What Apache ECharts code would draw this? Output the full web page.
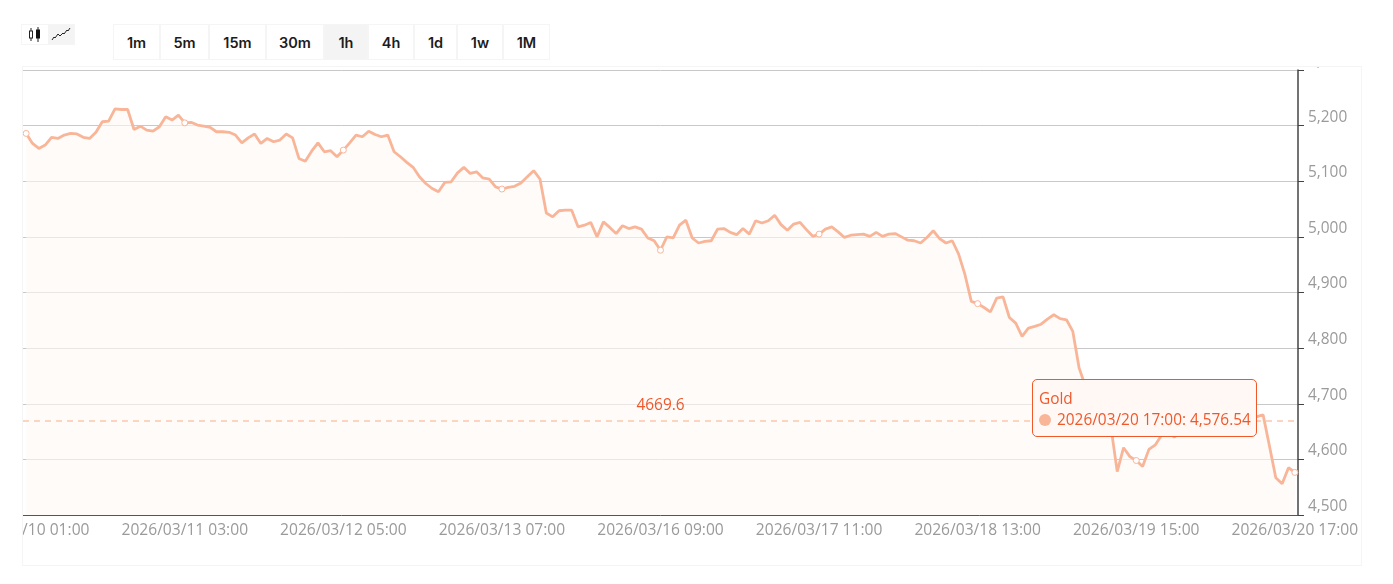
<!DOCTYPE html>
<html><head><meta charset="utf-8">
<style>
html,body{margin:0;padding:0;background:#fff;width:1393px;height:584px;overflow:hidden;font-family:"Open Sans",sans-serif}
#chart{position:absolute;left:22px;top:66px;width:1338px;height:498px;border:1px solid #f5f5f5;box-sizing:content-box}
.icons{position:absolute;left:21px;top:24px;width:54px;height:21px;display:flex;box-sizing:border-box;border:1px solid #f5f5f5}
.icons div{display:flex;align-items:center;justify-content:center;flex:1}
.icons .on{background:#f4f4f4}
.btn{position:absolute;top:24px;height:36px;box-sizing:border-box;border:1px solid #f5f5f5;display:flex;align-items:center;justify-content:center;font:600 14.5px Inter,sans-serif;color:#1c1c1c}
.btn.on{background:#f4f4f4}
</style></head><body>
<div class="icons">
<div><svg width="20" height="17" viewBox="0 0 20 17"><path d="M6 2v13M13 1v15" stroke="#222"/><rect x="4.5" y="5" width="3" height="7" fill="#fff" stroke="#222"/><rect x="11" y="3.5" width="4" height="9" fill="#111"/></svg></div>
<div class="on"><svg width="20" height="17" viewBox="0 0 20 17"><path d="M1 14l2-3 1 1 3-4 2 2 3-3 1 1 3-4 1 1 2-3" fill="none" stroke="#222" stroke-width="1"/></svg></div>
</div>
<div id="btns"></div>
<div id="chart"></div>
<script src="https://cdn.jsdelivr.net/npm/echarts@6/dist/echarts.min.js"></script>
<script>
const seriesName = 'Gold';
const intervalLabels = ['1m','5m','15m','30m','1h','4h','1d','1w','1M'];
const activeInterval = '1h';
const intervalEdges = [113,160,209,266,324,368,414,457,503,550];
const referenceLevel = 4669.6;
const yTicks = {min:4500,max:5300,interval:100};
const goldValues = [
5186,5168,5159,5165,5179,5177,5183,5186,5185,5179,5177,5188,5207,5208,5230,5229,5229,5193,5199,5192,5190,5198,5216,5210,5219,
5205,5206,5201,5199,5197,5189,5189,5188,5183,5169,5178,5185,5168,5177,5171,5174,5185,5178,5141,5136,5154,5169,5153,5155,5144,
5156,5169,5183,5180,5190,5184,5180,5183,5153,5144,5134,5125,5108,5096,5087,5081,5098,5099,5115,5125,5114,5117,5106,5104,5090,
5086,5089,5091,5097,5108,5119,5104,5043,5036,5047,5048,5048,5018,5021,5026,5000,5027,5017,5006,5020,5015,5018,5014,4998,4993,
4976,5000,4998,5021,5030,4998,4989,4992,4993,5014,5015,5008,5004,5015,5005,5029,5025,5029,5039,5022,5012,5023,5026,5013,5001,
5005,5014,5018,5009,4999,5003,5004,5005,5001,5008,5001,5005,5006,5000,4994,4993,4989,4999,5011,4997,4989,4993,4969,4932,4884,
4880,4873,4865,4890,4892,4855,4845,4821,4836,4839,4843,4852,4860,4853,4851,4830,4764,4731,4725,4707,4683,4659,4578,4621,4605,
4598,4587,4618,4626,4644,4650,4640,4648,4656,4671,4680,4671,4664,4674,4685,4678,4671,4667,4671,4677,4680,4624,4567,4556,4585,
4576.54];
// trading-hour calendar: closed daily at 22:00, and from Friday 22:00 through Sunday 22:00
function tradingHours(count){
  const out=[]; const p=n=>String(n).padStart(2,'0');
  let t=Date.UTC(2026,2,10,1);
  while(out.length<count){
    const d=new Date(t),h=d.getUTCHours(),w=d.getUTCDay();
    const closed=h===22||(w===5&&h>=22)||w===6||(w===0&&h<=22);
    if(!closed) out.push(`${d.getUTCFullYear()}/${p(d.getUTCMonth()+1)}/${p(d.getUTCDate())} ${p(h)}:00`);
    t+=3600000;
  }
  return out;
}
const categories = tradingHours(goldValues.length);

const btns=document.getElementById('btns');
intervalLabels.forEach((l,i)=>{
  const b=document.createElement('div');
  b.className='btn'+(l===activeInterval?' on':'');
  b.textContent=l;
  b.style.left=intervalEdges[i]+'px';
  b.style.width=(intervalEdges[i+1]-intervalEdges[i])+'px';
  btns.appendChild(b);
});

const FONT='"Open Sans",sans-serif';
const LINE='#f9b598', ACCENT='#f0582a';
const chart=echarts.init(document.getElementById('chart'),null,{renderer:'canvas'});
chart.setOption({
  animation:false,
  textStyle:{fontFamily:FONT},
  grid:{left:0,right:63,top:3,bottom:50,outerBoundsMode:'none'},
  tooltip:{
    trigger:'item',alwaysShowContent:true,transitionDuration:0,
    position:[1009,312],
    backgroundColor:'#fff8f5',borderColor:ACCENT,borderWidth:1,borderRadius:5,
    padding:[8,5,6,6],
    extraCssText:'box-shadow:none;line-height:21px;',
    textStyle:{color:ACCENT,fontSize:15.4,fontFamily:FONT},
    formatter:p=>`<div style="font-family:${FONT.replace(/"/g,"'")}">${p.seriesName}<br><span style="display:inline-block;width:12px;height:12px;border-radius:6px;background:${LINE};margin-right:6px;vertical-align:-1px"></span>${p.name}: ${p.value.toLocaleString('en-US')}</div>`
  },
  xAxis:{
    type:'category',data:categories,boundaryGap:true,
    axisLine:{lineStyle:{color:'#555',width:1}},
    axisTick:{interval:24,length:6,lineStyle:{color:'#555'},alignWithLabel:false},
    axisLabel:{interval:24,color:'#9a9a9a',fontSize:15.6,margin:8,fontFamily:FONT},
    splitLine:{show:false}
  },
  yAxis:{
    type:'value',position:'right',min:yTicks.min,max:yTicks.max,interval:yTicks.interval,
    axisLine:{show:true,lineStyle:{color:'#444',width:1.5}},
    axisTick:{show:true,length:6,lineStyle:{color:'#444'}},
    axisLabel:{color:'#9a9a9a',fontSize:15.4,margin:10,verticalAlign:'bottom',lineHeight:17,fontFamily:FONT,
      formatter:v=>v.toLocaleString('en-US')},
    splitLine:{show:true,lineStyle:{color:'#c8c8c8',width:1}}
  },
  series:[{
    name:seriesName,type:'line',data:goldValues,
    smooth:false,symbol:'circle',symbolSize:6,showSymbol:true,
    itemStyle:{color:'#fff',borderColor:LINE,borderWidth:1},
    lineStyle:{color:LINE,width:2.8},
    areaStyle:{color:'rgba(254,248,245,0.88)'},
    emphasis:{disabled:true},
    markLine:{
      silent:true,symbol:'none',animation:false,
      data:[{yAxis:referenceLevel}],
      lineStyle:{color:'#fcc7ae',type:[6,5],width:1.5},
      label:{position:'middle',color:ACCENT,fontSize:15.4,distance:8,fontFamily:FONT,formatter:()=>String(referenceLevel)}
    }
  }]
});
chart.dispatchAction({type:'showTip',seriesIndex:0,dataIndex:goldValues.length-1});
</script>
</body></html>
